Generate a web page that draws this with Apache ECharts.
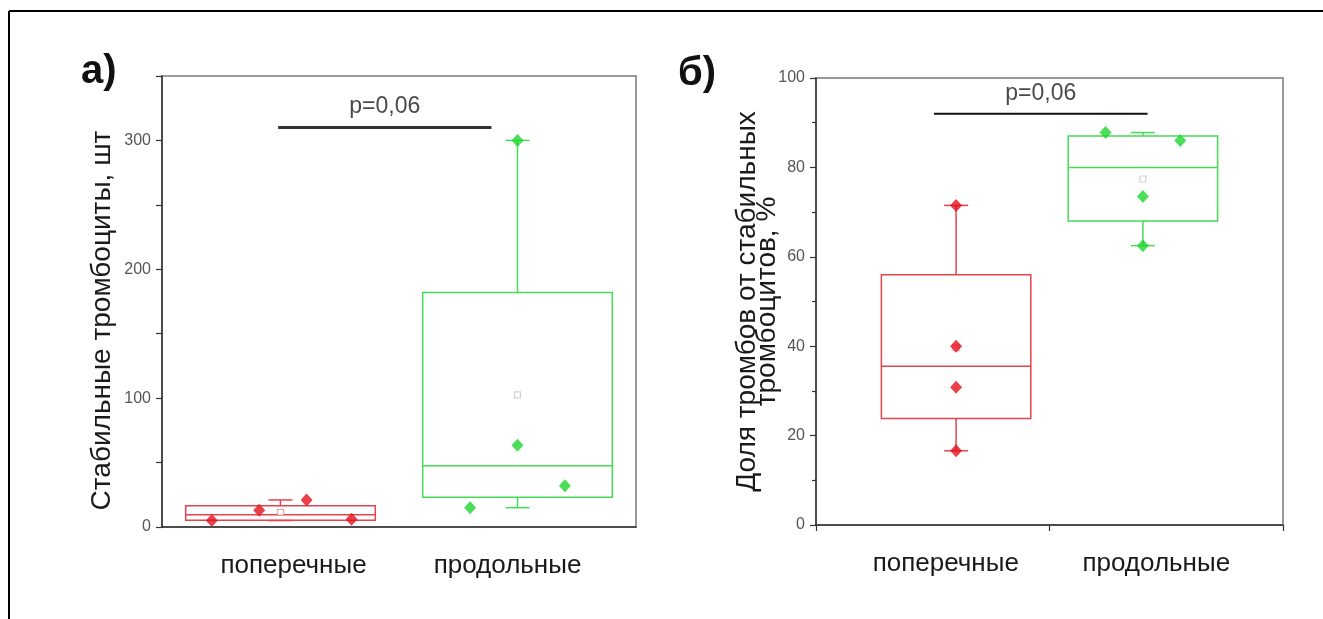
<!DOCTYPE html>
<html>
<head>
<meta charset="utf-8">
<script src="https://cdn.jsdelivr.net/npm/echarts@6/dist/echarts.min.js"></script>
<style>
html, body { margin: 0; padding: 0; background: #fff; }
#chart { width: 1323px; height: 619px; }
</style>
</head>
<body>
<div id="chart"></div>
<script>
var categories = ['поперечные', 'продольные'];

// panel а: stable platelets, pcs
var aPointsX = [[0.21, 0.41, 0.61, 0.80], [1.30, 1.50, 1.50, 1.70]];
var aPointsY = [[5, 13, 21, 6], [15, 63.5, 300, 32]];
// [center, min, q1, median, q3, max]
var aBoxes = [[0.5, 5, 5.3, 9.5, 16.5, 21], [1.5, 15, 23, 47.5, 182, 300]];
var aMeans = [11.25, 102.6];
var aPBar = [0.49, 1.39, 310];

// panel б: share of thrombi from stable platelets, %
var bPointsX = [[0.6, 0.6, 0.6, 0.6], [1.24, 1.56, 1.40, 1.40]];
var bPointsY = [[71.5, 40, 30.8, 16.6], [87.8, 86, 73.5, 62.5]];
var bBoxes = [[0.6, 16.6, 23.8, 35.5, 56, 71.5], [1.4, 62.5, 68, 80, 87, 87.8]];
var bMeans = [39.7, 77.4];
var bPBar = [0.505, 1.42, 92];

var pLabel = 'p=0,06';
var font = 'Liberation Sans, Arial, sans-serif';
var boxColors = ['#e2434e', '#45dc55'];
var pointColors = ['#e5101c', '#1fd530'];
var meanColors = ['#e88a90', '#c4c9c4'];

function boxRender(halfW) {
  return function (params, api) {
    var x = api.value(0);
    var col = boxColors[params.dataIndex];
    var pMin = api.coord([x, api.value(1)]);
    var pQ1 = api.coord([x, api.value(2)]);
    var pMed = api.coord([x, api.value(3)]);
    var pQ3 = api.coord([x, api.value(4)]);
    var pMax = api.coord([x, api.value(5)]);
    var hw = api.size([halfW, 0])[0];
    var cap = 12;
    var st = { stroke: col, lineWidth: 1.5, fill: 'none' };
    return {
      type: 'group',
      children: [
        { type: 'rect', shape: { x: pQ3[0] - hw, y: pQ3[1], width: 2 * hw, height: pQ1[1] - pQ3[1] }, style: st },
        { type: 'line', shape: { x1: pMed[0] - hw, y1: pMed[1], x2: pMed[0] + hw, y2: pMed[1] }, style: st },
        { type: 'line', shape: { x1: pQ3[0], y1: pQ3[1], x2: pMax[0], y2: pMax[1] }, style: st },
        { type: 'line', shape: { x1: pQ1[0], y1: pQ1[1], x2: pMin[0], y2: pMin[1] }, style: st },
        { type: 'line', shape: { x1: pMax[0] - cap, y1: pMax[1], x2: pMax[0] + cap, y2: pMax[1] }, style: st },
        { type: 'line', shape: { x1: pMin[0] - cap, y1: pMin[1], x2: pMin[0] + cap, y2: pMin[1] }, style: st }
      ]
    };
  };
}

function panelSeries(g, boxes, halfW, px, py, means, pbar, barWidth, barColor) {
  var xi = g * 2 + 1;
  var list = [];
  list.push({
    type: 'custom', xAxisIndex: xi, yAxisIndex: g,
    renderItem: boxRender(halfW),
    encode: { x: 0, y: [1, 2, 3, 4, 5] },
    data: boxes, silent: true, z: 2
  });
  list.push({
    type: 'scatter', xAxisIndex: xi, yAxisIndex: g, symbol: 'rect', symbolSize: 6, z: 3,
    data: means.map(function (m, i) {
      return { value: [boxes[i][0], m], itemStyle: { color: '#fff', borderColor: meanColors[i], borderWidth: 1.2 } };
    })
  });
  for (var c = 0; c < px.length; c++) {
    list.push({
      type: 'scatter', xAxisIndex: xi, yAxisIndex: g, symbol: 'diamond', symbolSize: [12, 13], z: 4,
      itemStyle: { color: pointColors[c] },
      data: px[c].map(function (x, i) { return [x, py[c][i]]; })
    });
  }
  list.push({
    type: 'line', xAxisIndex: xi, yAxisIndex: g, symbol: 'none', silent: true, z: 4,
    lineStyle: { color: barColor, width: barWidth },
    data: [[pbar[0], pbar[2]], [pbar[1], pbar[2]]]
  });
  list.push({
    type: 'scatter', xAxisIndex: xi, yAxisIndex: g, symbolSize: 0, silent: true,
    data: [[(pbar[0] + pbar[1]) / 2, pbar[2]]],
    label: { show: true, position: 'top', distance: 9, formatter: pLabel,
      fontSize: 23, color: '#1a1a1a', fontFamily: font }
  });
  return list;
}

function catAxis(g) {
  return {
    type: 'category', gridIndex: g, position: 'bottom', data: categories, boundaryGap: true,
    axisLine: { lineStyle: { color: '#333', width: 1.5 } },
    axisTick: { alignWithLabel: true, length: 6, lineStyle: { color: '#333', width: 1.2 } },
    axisLabel: {
      interval: 0, hideOverlap: false,
      fontSize: 26, color: '#1a1a1a', margin: 26, fontFamily: font,
      formatter: function (v, i) { return '{' + (i === 0 ? 'l' : 'r') + '|' + v + '}'; },
      rich: {
        l: { fontSize: 26, color: '#1a1a1a', fontFamily: font, padding: [0, 0, 0, 26] },
        r: { fontSize: 26, color: '#1a1a1a', fontFamily: font, padding: [0, 20, 0, 0] }
      }
    }
  };
}

function valAxis(g, ticks) {
  return {
    type: 'value', gridIndex: g, position: 'bottom', min: 0, max: 2, interval: 1,
    axisLine: { show: false, onZero: false }, splitLine: { show: false },
    axisLabel: { show: false },
    axisTick: { show: ticks, length: 6, lineStyle: { color: '#333', width: 1.2 } }
  };
}

var chart = echarts.init(document.getElementById('chart'));
chart.setOption({
  backgroundColor: '#fff',
  animation: false,
  grid: [
    { left: 162, top: 76, right: 687, bottom: 92, show: true, borderColor: '#999', borderWidth: 2 },
    { left: 816, top: 78, right: 40, bottom: 94, show: true, borderColor: '#999', borderWidth: 2 }
  ],
  xAxis: [catAxis(0), valAxis(0, false), catAxis(1), valAxis(1, true)],
  yAxis: [
    {
      type: 'value', gridIndex: 0, min: 0, max: 350, interval: 50,
      name: 'Стабильные тромбоциты, шт', nameLocation: 'middle', nameGap: 46,
      nameTextStyle: { fontSize: 28, color: '#1a1a1a', fontFamily: font, padding: [0, 38, 0, 0] },
      axisLine: { show: true, lineStyle: { color: '#333', width: 1.5 } },
      axisTick: { show: true, length: 6, lineStyle: { color: '#333', width: 1.2 } },
      axisLabel: {
        fontSize: 16, color: '#555', margin: 11, fontFamily: font,
        formatter: function (v) { return (v % 100 === 0 && v < 350) ? String(v) : ''; }
      },
      splitLine: { show: false }
    },
    {
      type: 'value', gridIndex: 1, min: 0, max: 100, interval: 20,
      name: 'Доля тромбов от стабильных\nтромбоцитов, %', nameLocation: 'middle', nameGap: 39,
      nameMoveOverlap: false,
      nameTextStyle: { fontSize: 28, color: '#1a1a1a', fontFamily: font, lineHeight: 20 },
      axisLine: { show: true, lineStyle: { color: '#333', width: 1.5 } },
      axisTick: { show: true, length: 6, lineStyle: { color: '#333', width: 1.2 } },
      minorTick: { show: true, splitNumber: 2, length: 4, lineStyle: { color: '#333', width: 1.2 } },
      axisLabel: { fontSize: 16, color: '#555', margin: 11, fontFamily: font },
      splitLine: { show: false }
    }
  ],
  graphic: [
    { type: 'line', shape: { x1: 9, y1: 11, x2: 1323, y2: 11 }, style: { stroke: '#000', lineWidth: 2 } },
    { type: 'line', shape: { x1: 9, y1: 11, x2: 9, y2: 619 }, style: { stroke: '#000', lineWidth: 2 } },
    { type: 'text', left: 81, top: 52, style: { text: 'а)', font: 'bold 40px ' + font, fill: '#111' } },
    { type: 'text', left: 678, top: 54, style: { text: 'б)', font: 'bold 40px ' + font, fill: '#111' } }
  ],
  series: [].concat(
    panelSeries(0, aBoxes, 0.4, aPointsX, aPointsY, aMeans, aPBar, 3, '#333'),
    panelSeries(1, bBoxes, 0.32, bPointsX, bPointsY, bMeans, bPBar, 2, '#111')
  )
});
</script>
</body>
</html>
